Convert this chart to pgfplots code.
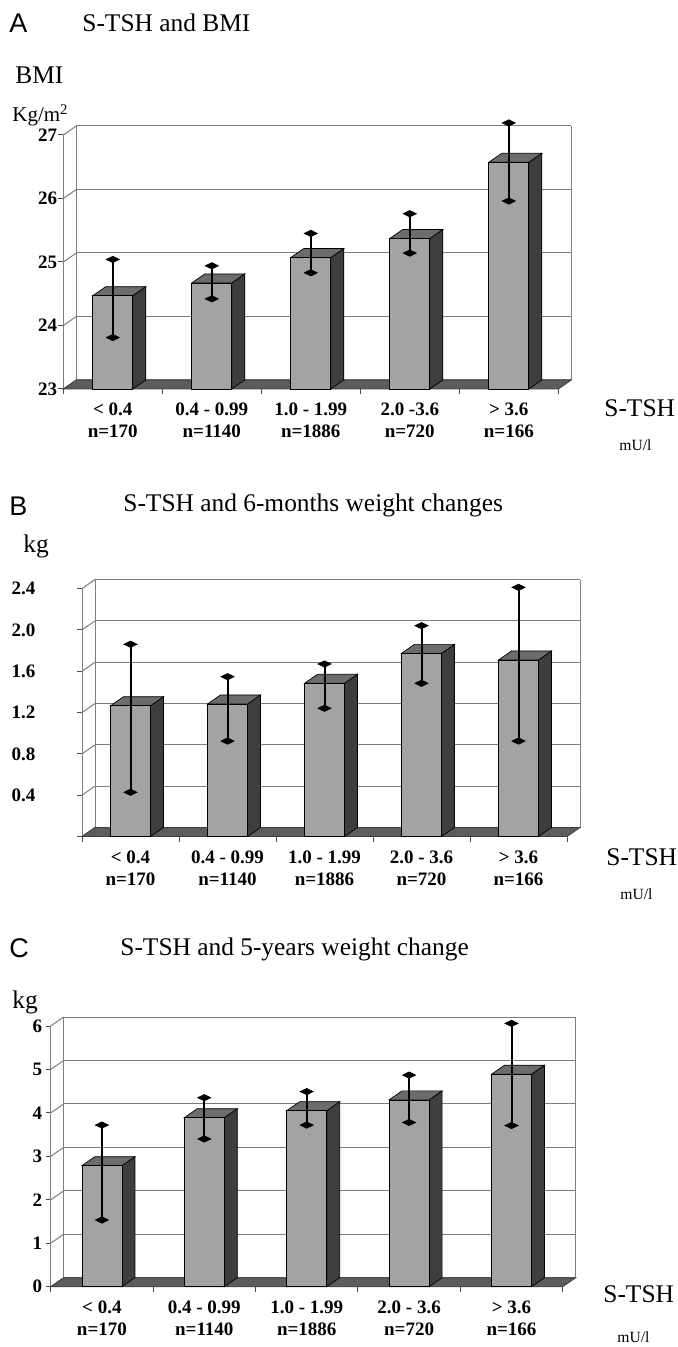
\documentclass[border=0pt]{standalone}
\usepackage{pgfplots}
\pgfplotsset{compat=1.18}
\usepackage{pgfplotstable}
\usepackage{fontspec}
\setmainfont{Liberation Serif}
\newfontfamily\panelfont{Liberation Sans}

\definecolor{frontgray}{RGB}{163,163,163}
\definecolor{topgray}{RGB}{108,108,108}
\definecolor{sidegray}{RGB}{62,62,62}
\definecolor{floorgray}{RGB}{92,92,92}
\definecolor{wallgray}{RGB}{125,125,125}

\newcommand\tickfont{\bfseries\fontsize{9.5}{11}\selectfont}
\newcommand\titlefont{\fontsize{12.7}{14}\selectfont}
\newdimen\myBarW \myBarW=10pt
\newdimen\myDepX \myDepX=6.5pt
\newdimen\myDepY \myDepY=4.5pt
\newdimen\myBarH
\def\myBarHval{0}

% 3-D column drawn from the data point (top centre of the front face)
\pgfdeclareplotmark{bar3d}{%
  \myBarH=\myBarHval pt\relax
  \pgfsetstrokecolor{black}%
  \pgfsetfillcolor{sidegray}%
  \pgfpathmoveto{\pgfqpoint{\myBarW}{0pt}}%
  \pgfpathlineto{\pgfqpoint{\dimexpr\myBarW+\myDepX\relax}{\myDepY}}%
  \pgfpathlineto{\pgfqpoint{\dimexpr\myBarW+\myDepX\relax}{\dimexpr\myDepY-\myBarH\relax}}%
  \pgfpathlineto{\pgfqpoint{\myBarW}{-\myBarH}}%
  \pgfpathclose
  \pgfusepath{fill,stroke}%
  \pgfsetfillcolor{topgray}%
  \pgfpathmoveto{\pgfqpoint{-\myBarW}{0pt}}%
  \pgfpathlineto{\pgfqpoint{\dimexpr\myDepX-\myBarW\relax}{\myDepY}}%
  \pgfpathlineto{\pgfqpoint{\dimexpr\myBarW+\myDepX\relax}{\myDepY}}%
  \pgfpathlineto{\pgfqpoint{\myBarW}{0pt}}%
  \pgfpathclose
  \pgfusepath{fill,stroke}%
  \pgfsetfillcolor{frontgray}%
  \pgfpathrectangle{\pgfqpoint{-\myBarW}{-\myBarH}}{\pgfqpoint{2\myBarW}{\myBarH}}%
  \pgfusepath{fill,stroke}%
}
% error-bar cap: pgfplots turns y-error marks by 90 degrees, so it is drawn upright here
\pgfdeclareplotmark{flatdiamond}{%
  \pgfpathmoveto{\pgfqpoint{0pt}{-3.3pt}}%
  \pgfpathlineto{\pgfqpoint{1.6pt}{0pt}}%
  \pgfpathlineto{\pgfqpoint{0pt}{3.3pt}}%
  \pgfpathlineto{\pgfqpoint{-1.6pt}{0pt}}%
  \pgfpathclose
  \pgfusepathqfillstroke
}

\newcommand\furniture[3]{%
  \pgfplotsinvokeforeach{#3}{%
    \draw[wallgray, line width=0.5pt] ([shift={(6.5pt,4.5pt)}]axis cs:-0.5,##1) -- ([shift={(6.5pt,4.5pt)}]axis cs:4.5,##1);
    \draw[wallgray, line width=0.5pt] (axis cs:-0.5,##1) -- ++(6.5pt,4.5pt);
  }
  \draw[wallgray, line width=0.5pt] ([shift={(6.5pt,4.5pt)}]axis cs:-0.5,#1) -- ([shift={(6.5pt,4.5pt)}]axis cs:-0.5,#2);
  \draw[wallgray, line width=0.5pt] ([shift={(6.5pt,4.5pt)}]axis cs:4.5,#1) -- ([shift={(6.5pt,4.5pt)}]axis cs:4.5,#2);
  \fill[floorgray, draw=sidegray, line width=0.4pt] (axis cs:-0.5,#1) -- (axis cs:4.5,#1) -- ([shift={(6.5pt,4.5pt)}]axis cs:4.5,#1) -- ([shift={(6.5pt,4.5pt)}]axis cs:-0.5,#1) -- cycle;
  \pgfplotsinvokeforeach{-0.5,0.5,1.5,2.5,3.5,4.5}{%
    \draw[black!70, line width=0.5pt] (axis cs:##1,#1) -- ++(0pt,-2.5pt);
  }
}

\pgfplotsset{panel/.style={
  anchor=south west, clip=false, clip marker paths=true,
  xmin=-0.5, xmax=4.5,
  axis x line*=bottom, axis y line*=left,
  axis line style={draw=wallgray, line width=0.5pt},
  tick align=outside, major tick length=2.5pt,
  xtick={0,1,2,3,4},
  xtick style={draw=none},
  xticklabel style={align=center, font=\tickfont, yshift=-1pt},
  yticklabel style={font=\tickfont},
  ytick style={draw=black!70, line width=0.5pt},
  scaled y ticks=false,
}}
\pgfplotsset{bars3d/.style={scatter, only marks, mark=bar3d,
  mark options={line width=0.35pt},
  scatter/@pre marker code/.code={}, scatter/@post marker code/.code={}}}
\pgfplotsset{errs/.style={draw=none, mark=none, forget plot,
  error bars/y dir=both, error bars/y explicit,
  error bars/error bar style={draw=black, line width=1pt},
  error bars/error mark=flatdiamond,
  error bars/error mark options={draw=black, fill=black, line width=0.3pt}}}

% BMI (kg/m^2): mean, upper and lower end of error bar
\pgfplotstableread{
x v top bot
0 24.47 25.04 23.81
1 24.67 24.94 24.42
2 25.07 25.45 24.83
3 25.37 25.76 25.14
4 26.57 27.19 25.96
}\dataA
% 6-month weight change (kg)
\pgfplotstableread{
x v top bot
0 1.266 1.861 0.428
1 1.283 1.547 0.924
2 1.483 1.670 1.241
3 1.773 2.041 1.483
4 1.709 2.412 0.924
}\dataB
% 5-year weight change (kg)
\pgfplotstableread{
x v top bot
0 2.785 3.72 1.535
1 3.89 4.35 3.40
2 4.05 4.49 3.72
3 4.30 4.87 3.78
4 4.89 6.06 3.71
}\dataC

\begin{document}
\begin{tikzpicture}
\useasboundingbox (0,0) rectangle (338.5pt,-673.5pt);

\begin{scope}[x=0.5pt,y=-0.5pt]
% panel A texts
\node[anchor=base west, inner sep=0pt, font={\panelfont\fontsize{13.5}{14}\selectfont}] at (9,33) {A};
\node[anchor=base west, inner sep=0pt, font=\titlefont] at (82,32) {S-TSH and BMI};
\node[anchor=base west, inner sep=0pt, font=\titlefont] at (15,84) {BMI};
\node[anchor=base west, inner sep=0pt, font={\fontsize{10.5}{12}\selectfont}] at (12,122) {Kg/m\textsuperscript{2}};
\node[anchor=base west, inner sep=0pt, font=\titlefont] at (604,416) {S-TSH};
\node[anchor=base west, inner sep=0pt, font={\fontsize{7.8}{9}\selectfont}] at (619,451) {mU/l};
% panel B texts
\node[anchor=base west, inner sep=0pt, font={\panelfont\fontsize{13.5}{14}\selectfont}] at (9,515) {B};
\node[anchor=base west, inner sep=0pt, font=\titlefont] at (123,511) {S-TSH and 6-months weight changes};
\node[anchor=base west, inner sep=0pt, font=\titlefont] at (23,552) {kg};
\node[anchor=base west, inner sep=0pt, font=\titlefont] at (606,865) {S-TSH};
\node[anchor=base west, inner sep=0pt, font={\fontsize{7.8}{9}\selectfont}] at (620,899) {mU/l};
% panel C texts
\node[anchor=base west, inner sep=0pt, font={\panelfont\fontsize{13.5}{14}\selectfont}] at (9,957) {C};
\node[anchor=base west, inner sep=0pt, font=\titlefont] at (120,955) {S-TSH and 5-years weight change};
\node[anchor=base west, inner sep=0pt, font=\titlefont] at (12,1008) {kg};
\node[anchor=base west, inner sep=0pt, font=\titlefont] at (603,1302) {S-TSH};
\node[anchor=base west, inner sep=0pt, font={\fontsize{7.8}{9}\selectfont}] at (617,1342) {mU/l};
\end{scope}

% ---------------- Panel A ----------------
\begin{axis}[panel, at={(31.65pt,-194.5pt)},
  x=49.5pt, y=31.75pt, ymin=23, ymax=27,
  ytick={23,24,25,26,27}, yticklabels={23,24,25,26,27},
  yticklabel style={xshift=3pt},
  xticklabels={{< 0.4\\n=170},{0.4 - 0.99\\n=1140},{1.0 - 1.99\\n=1886},{2.0 -3.6\\n=720},{> 3.6\\n=166}},
]
\furniture{23}{27}{23,24,25,26,27}
\addplot[bars3d, visualization depends on={(\thisrow{v}-23)*31.75 \as \myBarHval}] table[x=x, y=v] {\dataA};
\addplot[errs] table[x=x, y=v, y error plus expr=\thisrow{top}-\thisrow{v}, y error minus expr=\thisrow{v}-\thisrow{bot}] {\dataA};
\end{axis}

% ---------------- Panel B ----------------
\begin{axis}[panel, at={(41pt,-418.25pt)},
  x=48.5pt, y=51.65pt, ymin=0, ymax=2.4,
  ytick={0,0.4,0.8,1.2,1.6,2.0,2.4}, yticklabels={,0.4,0.8,1.2,1.6,2.0,2.4},
  yticklabel style={xshift=-17.3pt},
  xticklabels={{< 0.4\\n=170},{0.4 - 0.99\\n=1140},{1.0 - 1.99\\n=1886},{2.0 - 3.6\\n=720},{> 3.6\\n=166}},
]
\furniture{0}{2.4}{0,0.4,0.8,1.2,1.6,2.0,2.4}
\addplot[bars3d, visualization depends on={\thisrow{v}*51.65 \as \myBarHval}] table[x=x, y=v] {\dataB};
\addplot[errs] table[x=x, y=v, y error plus expr=\thisrow{top}-\thisrow{v}, y error minus expr=\thisrow{v}-\thisrow{bot}] {\dataB};
\end{axis}

% ---------------- Panel C ----------------
\begin{axis}[panel, at={(25.35pt,-643.35pt)},
  x=51.2pt, y=21.725pt, ymin=0, ymax=6,
  ytick={0,1,2,3,4,5,6}, yticklabels={0,1,2,3,4,5,6},
  yticklabel style={xshift=1.8pt},
  xticklabels={{< 0.4\\n=170},{0.4 - 0.99\\n=1140},{1.0 - 1.99\\n=1886},{2.0 - 3.6\\n=720},{> 3.6\\n=166}},
]
\furniture{0}{6}{0,1,2,3,4,5,6}
\addplot[bars3d, visualization depends on={\thisrow{v}*21.725 \as \myBarHval}] table[x=x, y=v] {\dataC};
\addplot[errs] table[x=x, y=v, y error plus expr=\thisrow{top}-\thisrow{v}, y error minus expr=\thisrow{v}-\thisrow{bot}] {\dataC};
\end{axis}
\end{tikzpicture}
\end{document}
